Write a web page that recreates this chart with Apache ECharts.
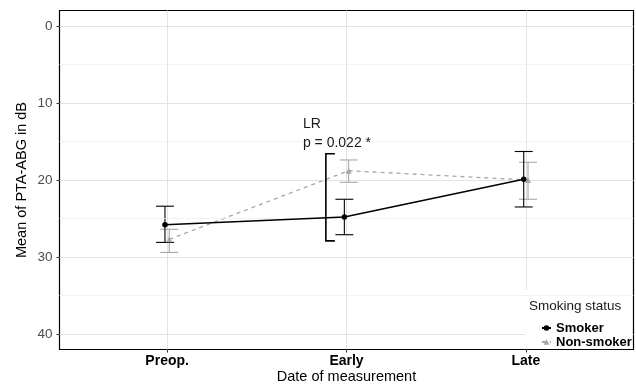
<!DOCTYPE html>
<html><head><meta charset="utf-8">
<script src="https://cdn.jsdelivr.net/npm/echarts@6/dist/echarts.min.js"></script>
<style>html,body{margin:0;padding:0;background:#fff}#c{width:636px;height:386px}</style>
</head><body><div id="c"></div>
<script>
const categories = ['Preop.', 'Early', 'Late'];
const yTicks = [0, 10, 20, 30, 40];
const yMinor = [5, 15, 25, 35];
const smokerMean = [25.8, 24.8, 19.9];
const smokerLow = [23.4, 22.5, 16.3];
const smokerHigh = [28.1, 27.1, 23.5];
const nonMean = [27.7, 18.8, 20.0];
const nonLow = [26.4, 17.4, 17.7];
const nonHigh = [29.4, 20.3, 22.5];
const dodge = 0.012;
const bracketX = [1.885, 1.935];
const bracketY = [16.6, 27.9];
const annotX = 1.757;
const annotLines = ['LR', 'p = 0.022 *'];
const annotY = [12.8, 15.2];

const FONT = 'Liberation Sans, Arial, sans-serif';
const xs = categories.map((c, i) => i + 1);

function errRender(color) {
  return function (params, api) {
    const x = api.value(0), lo = api.value(1), hi = api.value(2);
    const a = api.coord([x, lo]), b = api.coord([x, hi]);
    const half = api.size([0.05, 0])[0];
    const st = { stroke: color, lineWidth: 1.1 };
    return { type: 'group', children: [
      { type: 'line', shape: { x1: a[0], y1: a[1], x2: b[0], y2: b[1] }, style: st },
      { type: 'line', shape: { x1: a[0] - half, y1: a[1], x2: a[0] + half, y2: a[1] }, style: st },
      { type: 'line', shape: { x1: b[0] - half, y1: b[1], x2: b[0] + half, y2: b[1] }, style: st }
    ]};
  };
}

const chart = echarts.init(document.getElementById('c'), null, { renderer: 'canvas' });
chart.setOption({
  animation: false,
  backgroundColor: '#fff',
  textStyle: { fontFamily: FONT },
  grid: { left: 59.5, top: 10.5, width: 574, height: 339, containLabel: false, outerBoundsMode: 'none',
    show: true, borderColor: '#000', borderWidth: 1.2, backgroundColor: '#fff' },
  xAxis: {
    type: 'value', min: 0.4, max: 3.6, position: 'bottom',
    name: 'Date of measurement', nameLocation: 'middle', nameGap: 20, nameMoveOverlap: false,
    nameTextStyle: { fontSize: 14.5, color: '#000', fontFamily: FONT },
    axisLine: { show: false, onZero: false },
    axisTick: { show: true, length: 3, lineStyle: { color: '#333' }, customValues: xs },
    axisLabel: { customValues: xs, margin: 5, fontSize: 14, fontWeight: 'bold', color: '#000', fontFamily: FONT,
      formatter: v => categories[Math.round(v) - 1] || '' },
    splitLine: { show: true, lineStyle: { color: '#e3e3e3', width: 1 } }
  },
  yAxis: {
    type: 'value', min: -2, max: 42, inverse: true, position: 'left',
    name: 'Mean of PTA-ABG in dB', nameLocation: 'middle', nameGap: 30, nameMoveOverlap: false,
    nameTextStyle: { fontSize: 14.5, color: '#000', fontFamily: FONT },
    axisLine: { show: false, onZero: false },
    axisTick: { show: true, length: 3, lineStyle: { color: '#333' }, customValues: yTicks },
    axisLabel: { customValues: yTicks, margin: 7, fontSize: 13.5, color: '#4d4d4d', fontFamily: FONT },
    splitLine: { show: true, lineStyle: { color: '#e3e3e3', width: 1 } }
  },
  legend: {
    left: 536, top: 316, orient: 'vertical', itemWidth: 9, itemHeight: 7, itemGap: 0,
    data: ['Smoker', 'Non-smoker'],
    textStyle: { fontSize: 13, fontWeight: 'bold', color: '#000', fontFamily: FONT, lineHeight: 14 }
  },
  graphic: [
    { type: 'rect', z: 3, shape: { x: 525, y: 290, width: 107, height: 58 }, style: { fill: '#fff' } },
    { type: 'text', z: 4, x: 529, y: 306, style: { text: 'Smoking status', fontSize: 13.5, fill: '#1a1a1a', fontFamily: FONT, verticalAlign: 'middle' } }
  ],
  series: [
    {
      type: 'line', name: '_grid', silent: true, data: [], symbol: 'none',
      markLine: { silent: true, symbol: 'none', label: { show: false },
        lineStyle: { color: '#eeeeee', width: 0.7, type: 'solid' },
        data: yMinor.map(v => ({ yAxis: v })) }
    },
    {
      type: 'custom', name: 'Non-smoker err', silent: true, z: 3,
      renderItem: errRender('#a8a8a8'),
      data: xs.map((x, i) => [x + dodge, nonLow[i], nonHigh[i]])
    },
    {
      type: 'custom', name: 'Smoker err', silent: true, z: 3,
      renderItem: errRender('#000'),
      data: xs.map((x, i) => [x - dodge, smokerLow[i], smokerHigh[i]])
    },
    {
      type: 'line', name: 'Non-smoker', z: 4,
      data: xs.map((x, i) => [x + dodge, nonMean[i]]),
      symbol: 'triangle', symbolSize: 6, showSymbol: true,
      lineStyle: { color: '#a6a6a6', width: 1.3, type: [4, 4] },
      itemStyle: { color: '#a6a6a6' }
    },
    {
      type: 'line', name: 'Smoker', z: 5,
      data: xs.map((x, i) => [x - dodge, smokerMean[i]]),
      symbol: 'circle', symbolSize: 5.5, showSymbol: true,
      lineStyle: { color: '#000', width: 1.4 },
      itemStyle: { color: '#000' }
    },
    {
      type: 'custom', name: 'annot', silent: true, z: 6,
      data: [[bracketX[0], bracketY[0], bracketX[1], bracketY[1]]],
      renderItem: function (params, api) {
        const tl = api.coord([api.value(0), api.value(1)]);
        const br = api.coord([api.value(2), api.value(3)]);
        const st = { stroke: '#000', lineWidth: 1.6, fill: null };
        const children = [
          { type: 'polyline', shape: { points: [[br[0], tl[1]], [tl[0], tl[1]], [tl[0], br[1]], [br[0], br[1]]] }, style: st }
        ];
        annotLines.forEach((t, i) => {
          const p = api.coord([annotX, annotY[i]]);
          children.push({ type: 'text', x: p[0], y: p[1], style: { text: t, fontSize: 14, fill: '#1a1a1a', fontFamily: FONT, verticalAlign: 'middle', align: 'left' } });
        });
        return { type: 'group', children };
      }
    }
  ]
});
</script></body></html>
